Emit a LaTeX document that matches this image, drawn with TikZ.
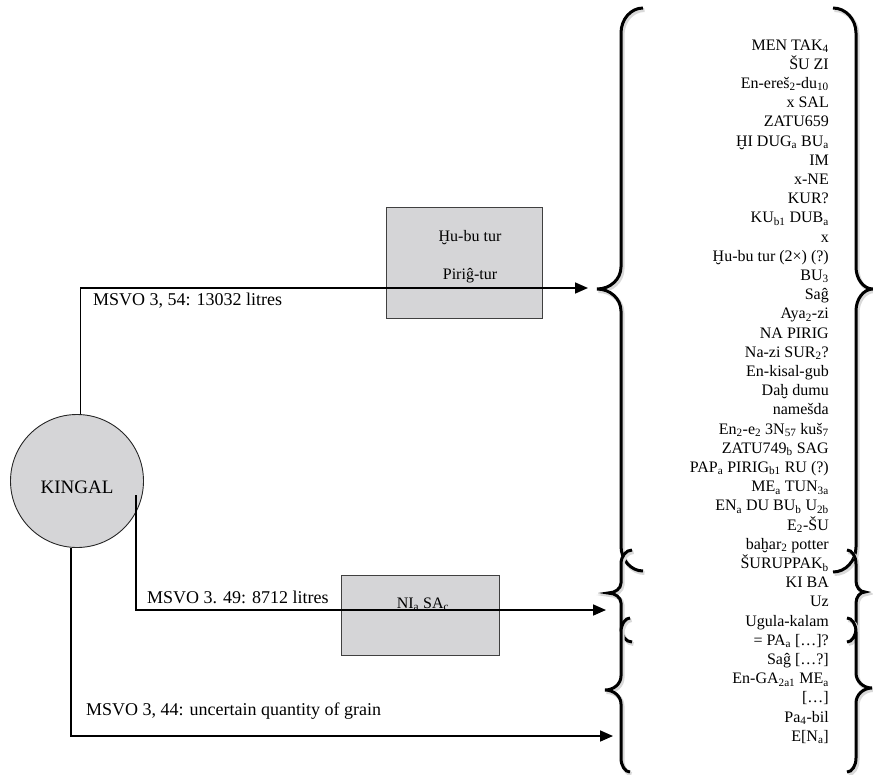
\documentclass[tikz,border=0pt]{standalone}
\usepackage{fontspec}
\setmainfont{Liberation Serif}
\usetikzlibrary{arrows.meta,calc}
\newcommand\lo[1]{\textsubscript{#1}}
\definecolor{shade}{HTML}{D5D5D7}
% left brace: style, xh, xv, xp, top, mid, bot, r1, r2
\newcommand\bracel[9]{%
 \draw[#1] (#2,#5) arc[start angle=270,end angle=180,x radius={#2-#3},y radius=#8]
   -- (#3,#6-#9) arc[start angle=0,end angle=90,x radius={#3-#4},y radius=#9]
   arc[start angle=270,end angle=360,x radius={#3-#4},y radius=#9]
   -- (#3,#7-#8) arc[start angle=180,end angle=90,x radius={#2-#3},y radius=#8];}
% right brace: style, xh, xv, xp, top, mid, bot, r1, r2
\newcommand\bracer[9]{%
 \draw[#1] (#2,#5) arc[start angle=270,end angle=360,x radius={#3-#2},y radius=#8]
   -- (#3,#6-#9) arc[start angle=180,end angle=90,x radius={#4-#3},y radius=#9]
   arc[start angle=270,end angle=180,x radius={#4-#3},y radius=#9]
   -- (#3,#7-#8) arc[start angle=0,end angle=90,x radius={#3-#2},y radius=#8];}
\begin{document}
\begin{tikzpicture}[x=1pt,y=-1pt,
  lst/.style={anchor=base east, inner sep=0pt, font=\fontsize{16}{19}\selectfont},
  lbl/.style={anchor=base west, inner sep=0pt, font=\fontsize{18}{21}\selectfont},
  boxtxt/.style={anchor=base, inner sep=0pt, font=\fontsize{16}{19}\selectfont},
  arr/.style={line width=1.7pt, -{Triangle[length=13pt,width=11pt]}},
  brc/.style={line width=3pt, preaction={draw=black!15, line width=4pt, transform canvas={shift={(1.5pt,-2pt)}}}},
  boxstyle/.style={draw=black!75, line width=0.9pt, fill=shade, inner sep=0pt}
]
\useasboundingbox (0,0) rectangle (873,774);

% boxes
\node[boxstyle, minimum width=156pt, minimum height=111pt] (b1) at (464,262.5) {};
\node[boxtxt] (b1a) at (470,241) {Ḫu-bu tur};
\node[boxtxt] (b1b) at (470,279) {Piriĝ-tur};
\node[boxstyle, minimum width=158pt, minimum height=80pt] (b2) at (420,615) {};
\node[boxtxt] (b2a) at (423,608) {NI\lo{a} SA\lo{c}};

% circle
\node[circle, draw=black!85, line width=0.9pt, fill=shade, minimum size=133pt, inner sep=0pt,
      font=\fontsize{19}{22}\selectfont, text height=24.6pt, text depth=0pt] (k) at (77,481) {KINGAL};

% arrow ends
\coordinate (e1) at (588,288);
\coordinate (e2) at (606,610);
\coordinate (e3) at (613,736);
\coordinate (s2) at (136,495);

\draw[arr] (k.87) |- (e1);
\draw[arr] (s2) |- (e2);
\draw[arr] (k.-95) |- (e3);

% labels
\node[lbl] (m1) at (93,305) {MSVO 3, 54: 13032 litres};
\node[lbl] (m2) at (147,603) {MSVO 3. 49: 8712 litres};
\node[lbl] (m3) at (86,715) {MSVO 3, 44: uncertain quantity of grain};

% list
\foreach \t [count=\i] in {
 MEN TAK\lo{4},
 ŠU ZI,
 En-ereš\lo{2}-du\lo{10},
 x SAL,
 ZATU659,
 ḪI DUG\lo{a} BU\lo{a},
 IM,
 x-NE,
 KUR?,
 KU\lo{b1} DUB\lo{a},
 x,
 Ḫu-bu tur (2×) (?),
 BU\lo{3},
 Saĝ,
 Aya\lo{2}-zi,
 NA PIRIG,
 Na-zi SUR\lo{2}?,
 En-kisal-gub,
 Daḫ dumu,
 namešda,
 En\lo{2}-e\lo{2} 3N\lo{57} kuš\lo{7},
 ZATU749\lo{b} SAG,
 PAP\lo{a} PIRIG\lo{b1} RU (?)\hspace{13pt},
 ME\lo{a} TUN\lo{3a}\hspace{8pt},
 EN\lo{a} DU BU\lo{b} U\lo{2b},
 E\lo{2}-ŠU,
 baḫar\lo{2} potter,
 ŠURUPPAK\lo{b},
 KI BA,
 Uz,
 Ugula-kalam,
 = PA\lo{a} […]?,
 Saĝ […?],
 En-GA\lo{2a1} ME\lo{a},
 […],
 Pa\lo{4}-bil,
 E[N\lo{a}]}
 { \node[lst] (l\i) at (829,{50+19.2*(\i-1)}) {\t}; }

% braces
\bracel{brc}{643}{621}{597}{8}{289}{571}{25}{22}
\bracer{brc}{833}{856}{873}{8}{289}{572}{25}{22}
\bracel{brc}{632}{621}{608}{550}{593}{642}{14}{10}
\bracel{brc}{630}{621}{605}{618}{690}{772}{14}{14}
\bracer{brc}{847}{856}{865}{550}{592}{642}{14}{11}
\bracer{brc}{847}{856}{872}{618}{688}{772}{14}{15}
\end{tikzpicture}
\end{document}
